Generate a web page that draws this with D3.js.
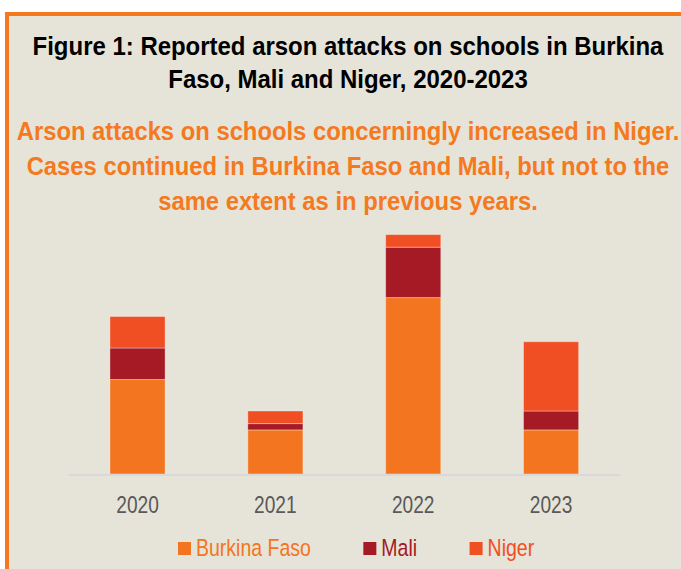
<!DOCTYPE html>
<html>
<head>
<meta charset="utf-8">
<script src="https://cdn.jsdelivr.net/npm/d3@7"></script>
<style>
  body { margin: 0; background: #fff; }
  svg { display: block; }
  text { font-family: "Liberation Sans", Arial, sans-serif; }
</style>
</head>
<body>
<div id="chart"></div>
<script>
// Data (reported arson attacks)
const years = ["2020", "2021", "2022", "2023"];
const burkinaFaso = [15, 7, 28, 7];
const mali = [5, 1, 8, 3];
const niger = [5, 2, 2, 11];
const seriesNames = ["Burkina Faso", "Mali", "Niger"];
const seriesColors = ["#f47520", "#a51a24", "#f04e23"];

const titleLines = [
  "Figure 1: Reported arson attacks on schools in Burkina",
  "Faso, Mali and Niger, 2020-2023"
];
const subtitleLines = [
  "Arson attacks on schools concerningly increased in Niger.",
  "Cases continued in Burkina Faso and Mali, but not to the",
  "same extent as in previous years."
];

const width = 681, height = 569;
const svg = d3.select("#chart").append("svg")
  .attr("width", width)
  .attr("height", height);

// panel with orange frame (runs off the right and bottom edges)
svg.append("rect")
  .attr("x", 7).attr("y", 14)
  .attr("width", 720).attr("height", 600)
  .attr("fill", "#e6e4d8")
  .attr("stroke", "#f47920")
  .attr("stroke-width", 4);

const cx = 348;

// narrow font is not installed: squeeze each block so its first line has the width seen
function squeezedLines(lines, y0, step, fill, firstWidth) {
  const g = svg.append("g");
  const texts = g.selectAll("text")
    .data(lines)
    .join("text")
    .attr("text-anchor", "middle")
    .attr("font-weight", "bold")
    .attr("font-size", 25.5)
    .attr("fill", fill)
    .text(d => d);
  const s = firstWidth / texts.node().getComputedTextLength();
  texts.attr("transform", (d, i) => `translate(${cx},${y0 + i * step}) scale(${s},1)`);
}

squeezedLines(titleLines, 55, 33, "#000", 631);
squeezedLines(subtitleLines, 140, 35, "#f47920", 663);

// stacked bars
const rows = years.map((y, i) => ({
  year: y,
  "Burkina Faso": burkinaFaso[i],
  "Mali": mali[i],
  "Niger": niger[i]
}));
const stacked = d3.stack().keys(seriesNames)(rows);

const x = d3.scaleBand()
  .domain(years)
  .range([68.6, 620])
  .paddingInner(0.6)
  .paddingOuter(0.3);

const y = d3.scaleLinear()
  .domain([0, 40])
  .range([474, 222]);

const color = d3.scaleOrdinal().domain(seriesNames).range(seriesColors);

svg.append("g")
  .selectAll("g")
  .data(stacked)
  .join("g")
  .attr("fill", d => color(d.key))
  .selectAll("rect")
  .data(d => d)
  .join("rect")
  .attr("x", d => x(d.data.year))
  .attr("y", d => y(d[1]))
  .attr("width", x.bandwidth())
  .attr("height", d => y(d[0]) - y(d[1]))
  .attr("stroke", "rgba(255,255,255,0.35)")
  .attr("stroke-width", 1);

// x axis
const xAxis = svg.append("g")
  .attr("transform", `translate(0,${y(0)})`)
  .call(d3.axisBottom(x).tickSize(0).tickPadding(0));
xAxis.select(".domain")
  .attr("stroke", "#d9d9d9")
  .attr("stroke-width", 2)
  .attr("d", "M68.6,1H620");
xAxis.selectAll(".tick text")
  .attr("font-size", 24.5)
  .attr("fill", "#595959")
  .attr("y", 38.7)
  .attr("dy", null)
  .attr("transform", "scale(0.78,1)");

// legend
const legendSqueeze = 0.83;
const legend = svg.append("g");
let lx = 178;
seriesNames.forEach((name, i) => {
  legend.append("rect")
    .attr("x", lx).attr("y", 542)
    .attr("width", 13).attr("height", 13)
    .attr("fill", seriesColors[i]);
  const t = legend.append("text")
    .attr("transform", `translate(${lx + 18},556) scale(${legendSqueeze},1)`)
    .attr("font-size", 23.5)
    .attr("fill", seriesColors[i])
    .text(name);
  lx += 18 + t.node().getComputedTextLength() * legendSqueeze + 52.5;
});
</script>
</body>
</html>
